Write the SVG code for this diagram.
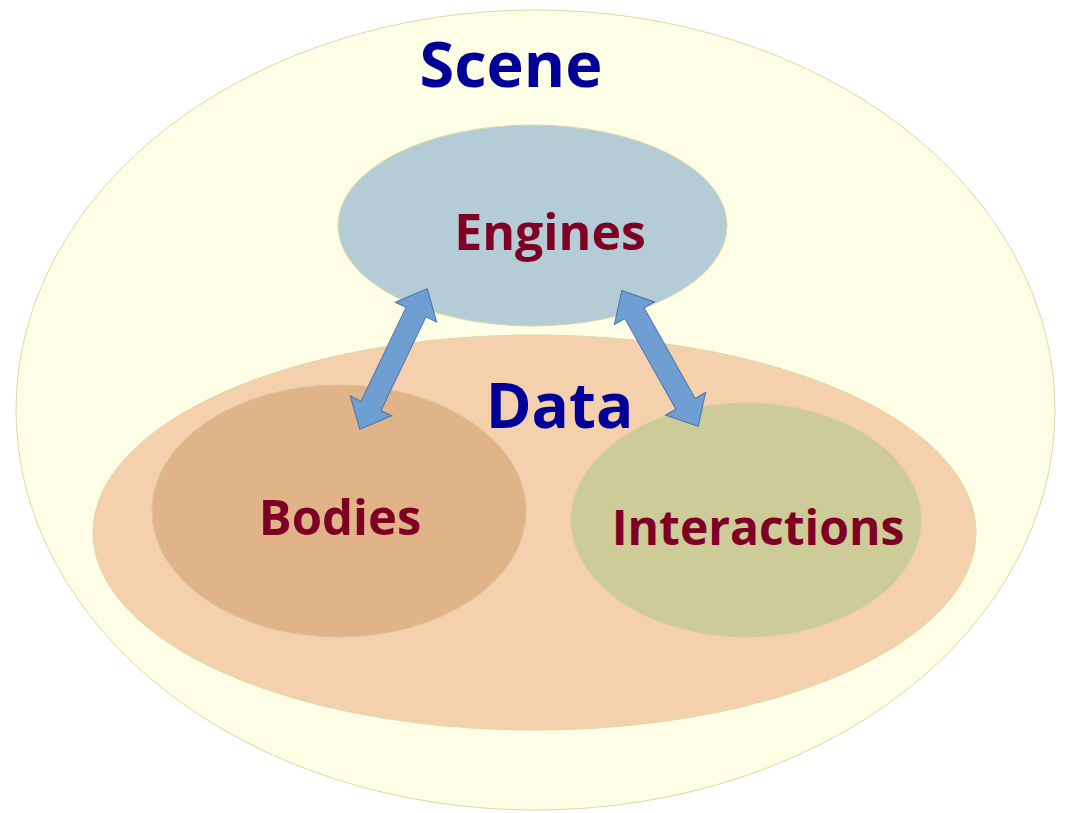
<svg xmlns="http://www.w3.org/2000/svg" width="1067" height="813" viewBox="0 0 1067 813">
  <style>
    .title { font-family: "Open Sans", "Liberation Sans", sans-serif; font-weight: bold; fill: #000099; text-anchor: middle; }
    .label { font-family: "Open Sans", "Liberation Sans", sans-serif; font-weight: bold; fill: #7f0025; text-anchor: middle; }
    .ring { stroke: #d9d9a6; stroke-width: 1; }
    .arrow { fill: #6f9fd2; stroke: #4a72ad; stroke-width: 1; }
  </style>
  <defs>
    <!-- double-headed block arrow along the x axis, centred on the origin -->
    <path id="dbl" d="M -78 0 L -52 -23 L -52 -11 L 52 -11 L 52 -23 L 78 0 L 52 23 L 52 11 L -52 11 L -52 23 Z"/>
  </defs>
  <rect width="1067" height="813" fill="#ffffff"/>

  <g id="scene">
    <ellipse class="ring" cx="535.5" cy="410" rx="519.5" ry="400" fill="#fefee6"/>
    <text class="title" x="511" y="87" font-size="63">Scene</text>
  </g>

  <g id="engines">
    <ellipse class="ring" cx="532.5" cy="225.5" rx="194.5" ry="100.5" fill="#b4ccd6"/>
    <text class="label" x="550" y="250" font-size="50">Engines</text>
  </g>

  <g id="data">
    <ellipse class="ring" cx="534.5" cy="532.5" rx="441.5" ry="197.5" fill="#f5d0ac" stroke="#efc9a5"/>
    <text class="title" x="559.5" y="428" font-size="62">Data</text>
  </g>

  <g id="bodies">
    <ellipse cx="339" cy="511" rx="187" ry="126" fill="#e0b388" stroke="#d9c39a" stroke-width="1"/>
    <text class="label" x="340" y="535" font-size="49">Bodies</text>
  </g>

  <g id="interactions">
    <ellipse cx="746" cy="520" rx="175" ry="117" fill="#cdcb98" stroke="#d4cfa0" stroke-width="1"/>
    <text class="label" x="758" y="545" font-size="48">Interactions</text>
  </g>

  <g id="connectors">
    <use href="#dbl" class="arrow" transform="translate(393.5 359) rotate(115.6)"/>
    <use href="#dbl" class="arrow" transform="translate(660 358.5) rotate(60.6)"/>
  </g>
</svg>
